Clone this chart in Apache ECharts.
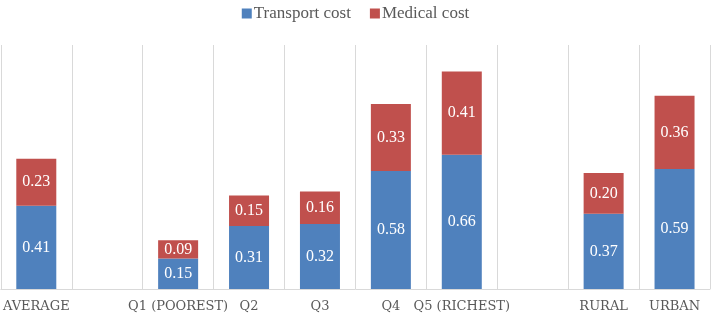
<!DOCTYPE html>
<html>
<head>
<meta charset="utf-8">
<script src="https://cdn.jsdelivr.net/npm/echarts@6/dist/echarts.min.js"></script>
<style>
  html, body { margin: 0; padding: 0; background: #fff; }
  #chart { width: 711px; height: 314px; }
</style>
</head>
<body>
<div id="chart"></div>
<script>
// categories (blank slots separate the groups)
const categories = ["AVERAGE", "", "Q1 (POOREST)", "Q2", "Q3", "Q4", "Q5 (RICHEST)", "", "RURAL", "URBAN"];
const transportCost = [0.41, null, 0.15, 0.31, 0.32, 0.58, 0.66, null, 0.37, 0.59];
const medicalCost = [0.23, null, 0.09, 0.15, 0.16, 0.33, 0.41, null, 0.20, 0.36];

const FONT = "Liberation Serif";

const chart = echarts.init(document.getElementById("chart"));

const valueLabel = {
    show: true,
    position: "inside",
    color: "#fff",
    fontFamily: FONT,
    fontSize: 16,
    formatter: (p) => p.value == null ? "" : p.value.toFixed(2)
};

chart.setOption({
    animation: false,
    backgroundColor: "#fff",
    legend: {
        top: 0,
        left: "center",
        itemWidth: 10,
        itemHeight: 10,
        itemGap: 19,
        icon: "rect",
        data: ["Transport cost", "Medical cost"],
        textStyle: { color: "#595959", fontFamily: FONT, fontSize: 17, padding: [0, 0, 0, -3] }
    },
    grid: { left: 0, right: 1, top: 45, bottom: 25 },
    xAxis: {
        type: "category",
        data: categories,
        axisLine: { lineStyle: { color: "#D9D9D9" } },
        axisTick: { show: false },
        splitLine: { show: true, lineStyle: { color: "#D9D9D9" } },
        axisLabel: {
            interval: 0,
            color: "#595959",
            fontFamily: "DejaVu Serif",
            fontSize: 13,
            margin: 11
        }
    },
    yAxis: {
        type: "value",
        min: 0,
        max: 1.2,
        show: false,
        splitLine: { show: false }
    },
    series: [
        {
            name: "Transport cost",
            type: "bar",
            stack: "cost",
            barWidth: 40,
            itemStyle: { color: "#4F81BD" },
            label: valueLabel,
            data: transportCost
        },
        {
            name: "Medical cost",
            type: "bar",
            stack: "cost",
            barWidth: 40,
            itemStyle: { color: "#C0504D" },
            label: valueLabel,
            data: medicalCost
        }
    ]
});

window.addEventListener("resize", () => chart.resize());
</script>
</body>
</html>
